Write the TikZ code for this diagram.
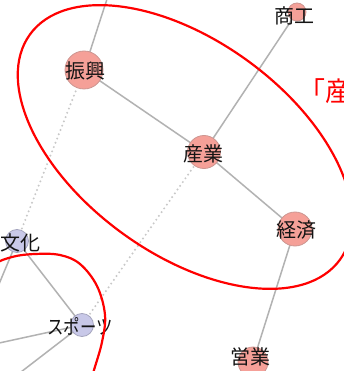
\documentclass[tikz,border=0pt]{standalone}
\usepackage{fontspec}
\newfontfamily\jpfont{Noto Sans CJK JP}
\usetikzlibrary{calc}
\definecolor{edgegray}{RGB}{178,178,178}
\definecolor{dotgray}{RGB}{200,200,200}
\definecolor{salmon}{RGB}{245,160,152}
\definecolor{salmonrim}{RGB}{205,150,145}
\definecolor{lavender}{RGB}{200,200,232}
\definecolor{lavenderrim}{RGB}{165,165,190}
\definecolor{ringred}{RGB}{255,0,0}
\tikzset{
  link/.style={draw=edgegray, line width=1.5pt},
  weaklink/.style={draw=dotgray, line width=2.2pt, line cap=round, dash pattern=on 0pt off 4.6pt},
  redvertex/.style={circle, fill=salmon, draw=salmonrim, line width=0.8pt, inner sep=0pt},
  bluevertex/.style={circle, fill=lavender, draw=lavenderrim, line width=0.8pt, inner sep=0pt},
  word/.style={font=\jpfont\fontsize{20}{20}\selectfont, text=black!92, inner sep=0pt},
  ring/.style={draw=ringred, line width=2.2pt},
}
\begin{document}
\begin{tikzpicture}[x=1pt, y=-1pt]
\useasboundingbox (0,0) rectangle (343,371);
\fill[white] (0,0) rectangle (343,371);

% vertex positions
\coordinate (cShinko) at (84,70);
\coordinate (cSangyo) at (204,152);
\coordinate (cShoko)  at (297,12);
\coordinate (cKeizai) at (295,229);
\coordinate (cEigyo)  at (253,362);
\coordinate (cBunka)  at (17,241);
\coordinate (cSports) at (82,325);

% loose ends leaving the frame
\coordinate (eTop)    at (108,-4);
\coordinate (eBunka)  at (-6,296);
\coordinate (eSportsA) at (-10,345);
\coordinate (eSportsB) at (8,382);

% connectors
\draw[weaklink] (cShinko) -- (cBunka);
\draw[weaklink] (cSangyo) -- (cSports);
\draw[link] (cShinko) -- (eTop);
\draw[link] (cShinko) -- (cSangyo);
\draw[link] (cSangyo) -- (cShoko);
\draw[link] (cSangyo) -- (cKeizai);
\draw[link] (cKeizai) -- (cEigyo);
\draw[link] (cBunka) -- (cSports);
\draw[link] (cBunka) -- (eBunka);
\draw[link] (cSports) -- (eSportsA);
\draw[link] (cSports) -- (eSportsB);

% vertices
\node[redvertex, minimum size=38pt] (vShinko) at (cShinko) {};
\node[redvertex, minimum size=33pt] (vSangyo) at (cSangyo) {};
\node[redvertex, minimum size=18pt] (vShoko) at (cShoko) {};
\node[redvertex, minimum size=34pt] (vKeizai) at (cKeizai) {};
\node[redvertex, minimum size=30pt] (vEigyo) at (cEigyo) {};
\node[bluevertex, minimum size=23pt] (vBunka) at (cBunka) {};
\node[bluevertex, minimum size=23pt] (vSports) at (cSports) {};

% labels
\node[word] (tShinko) at (85,71) {振興};
\node[word] (tSangyo) at (203,154) {産業};
\node[word] (tShoko)  at (294,16) {商工};
\node[word] (tKeizai) at (296,230) {経済};
\node[word] (tEigyo)  at (250,357) {営業};
\node[word] (tBunka)  at (20,243) {文化};
\node[word, xscale=0.82] (tSports) at (80,326) {スポーツ};

% group outlines
\draw[ring, shift={(185,147)}, rotate=-36] (0,0) ellipse [x radius=191.6pt, y radius=106.6pt];
\draw[ring] plot[smooth, tension=0.6] coordinates {(-30,290) (-8,266) (12,257) (35,254) (60,255) (80,264) (97,286) (105,315) (102,342) (94,370) (88,390)};

% caption fragment running past the right border
\node[font=\jpfont\fontsize{27}{27}\selectfont, text=ringred, anchor=west, inner sep=0pt] (cap) at (298,91) {「産};
\end{tikzpicture}
\end{document}
